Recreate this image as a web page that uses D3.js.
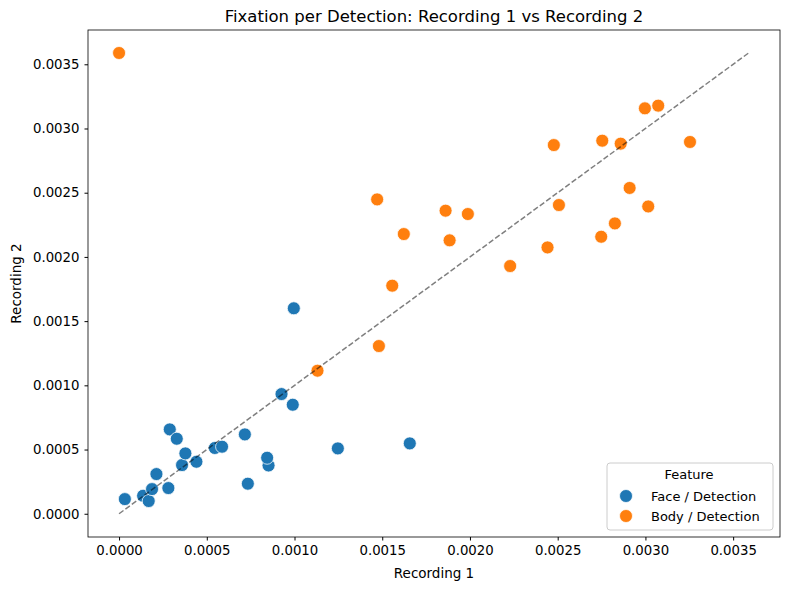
<!DOCTYPE html>
<html>
<head>
<meta charset="utf-8">
<script src="https://cdn.jsdelivr.net/npm/d3@7"></script>
<style>
  body { margin: 0; background: #fff; }
  text { font-family: "DejaVu Sans", sans-serif; fill: #000; }
</style>
</head>
<body>
<svg id="chart" width="790" height="590"></svg>
<script>
// Face / Detection
const faceX = [0.000033, 0.000137, 0.000169, 0.000188, 0.000213, 0.000281, 0.000289, 0.000329, 0.000359, 0.000378, 0.000441,
               0.000546, 0.000587, 0.000717, 0.000734, 0.000852, 0.000844, 0.000926, 0.000990, 0.000996, 0.001247, 0.001657];
const faceY = [0.000114, 0.000140, 0.000099, 0.000192, 0.000309, 0.000200, 0.000657, 0.000584, 0.000379, 0.000470, 0.000405,
               0.000512, 0.000522, 0.000618, 0.000234, 0.000376, 0.000436, 0.000932, 0.000849, 0.001600, 0.000509, 0.000548];
// Body / Detection
const bodyX = [0.000000, 0.001471, 0.001557, 0.001623, 0.001131, 0.001481, 0.001861, 0.001988, 0.001884, 0.002229, 0.002442,
               0.002478, 0.002507, 0.002748, 0.002754, 0.002826, 0.002859, 0.002910, 0.002997, 0.003016, 0.003073, 0.003254];
const bodyY = [0.003588, 0.002448, 0.001776, 0.002178, 0.001114, 0.001306, 0.002360, 0.002334, 0.002129, 0.001929, 0.002074,
               0.002871, 0.002404, 0.002157, 0.002905, 0.002261, 0.002882, 0.002537, 0.003157, 0.002393, 0.003178, 0.002895];
const features = ["Face / Detection", "Body / Detection"];
const colors = ["#1f77b4", "#ff7f0e"];
const ticks = [0, 0.0005, 0.001, 0.0015, 0.002, 0.0025, 0.003, 0.0035];

const svg = d3.select("#chart");
const margin = { top: 30, right: 10, bottom: 53, left: 88 };
const W = 790, H = 590;

const x = d3.scaleLinear().domain([-0.000177, 0.003767]).range([margin.left, W - margin.right]);
const y = d3.scaleLinear().domain([-0.000181, 0.003767]).range([H - margin.bottom, margin.top]);

const series = [
  faceX.map((v, i) => ({ x: v, y: faceY[i], f: 0 })),
  bodyX.map((v, i) => ({ x: v, y: bodyY[i], f: 1 }))
];

// points
series.forEach(pts => {
  svg.append("g").selectAll("circle").data(pts).join("circle")
    .attr("cx", d => x(d.x))
    .attr("cy", d => y(d.y))
    .attr("r", 6.5)
    .attr("fill", d => colors[d.f])
    .attr("stroke", "#fff")
    .attr("stroke-width", 0.75);
});

// diagonal reference
const maxVal = d3.max([...faceX, ...faceY, ...bodyX, ...bodyY]);
svg.append("line")
  .attr("x1", x(0)).attr("y1", y(0))
  .attr("x2", x(maxVal)).attr("y2", y(maxVal))
  .attr("stroke", "#000").attr("stroke-opacity", 0.5)
  .attr("stroke-width", 1.5).attr("stroke-dasharray", "5.5,2.4");

// axes
const fmt = d3.format(".4f");
const xAxis = svg.append("g").attr("transform", `translate(0,${H - margin.bottom})`)
  .call(d3.axisBottom(x).tickValues(ticks).tickFormat(fmt).tickSize(3.5).tickPadding(5));
const yAxis = svg.append("g").attr("transform", `translate(${margin.left},0)`)
  .call(d3.axisLeft(y).tickValues(ticks).tickFormat(fmt).tickSize(3.5).tickPadding(5));
[xAxis, yAxis].forEach(a => {
  a.selectAll("text").attr("font-size", 13.3).attr("font-family", "DejaVu Sans");
  a.select(".domain").remove();
});

// frame
svg.append("rect")
  .attr("x", margin.left).attr("y", margin.top)
  .attr("width", W - margin.left - margin.right)
  .attr("height", H - margin.top - margin.bottom)
  .attr("fill", "none").attr("stroke", "#000").attr("stroke-width", 0.8);

// labels
svg.append("text").attr("x", (margin.left + W - margin.right) / 2).attr("y", 22)
  .attr("text-anchor", "middle").attr("font-size", 16.5)
  .text("Fixation per Detection: Recording 1 vs Recording 2");
svg.append("text").attr("x", (margin.left + W - margin.right) / 2).attr("y", 578)
  .attr("text-anchor", "middle").attr("font-size", 13.5).text("Recording 1");
svg.append("text").attr("transform", `translate(21,${(margin.top + H - margin.bottom) / 2}) rotate(-90)`)
  .attr("text-anchor", "middle").attr("font-size", 13.5).text("Recording 2");

// legend
const lg = svg.append("g").attr("transform", "translate(607,463)");
lg.append("rect").attr("width", 166).attr("height", 67).attr("rx", 3)
  .attr("fill", "#fff").attr("fill-opacity", 0.8).attr("stroke", "#ccc");
lg.append("text").attr("x", 82).attr("y", 16).attr("text-anchor", "middle")
  .attr("font-size", 13).text("Feature");
features.forEach((f, i) => {
  lg.append("circle").attr("cx", 19).attr("cy", 33 + i * 20).attr("r", 6.5)
    .attr("fill", colors[i]).attr("stroke", "#fff").attr("stroke-width", 0.75);
  lg.append("text").attr("x", 44).attr("y", 38 + i * 20)
    .attr("font-size", 13).text(f);
});
</script>
</body>
</html>
